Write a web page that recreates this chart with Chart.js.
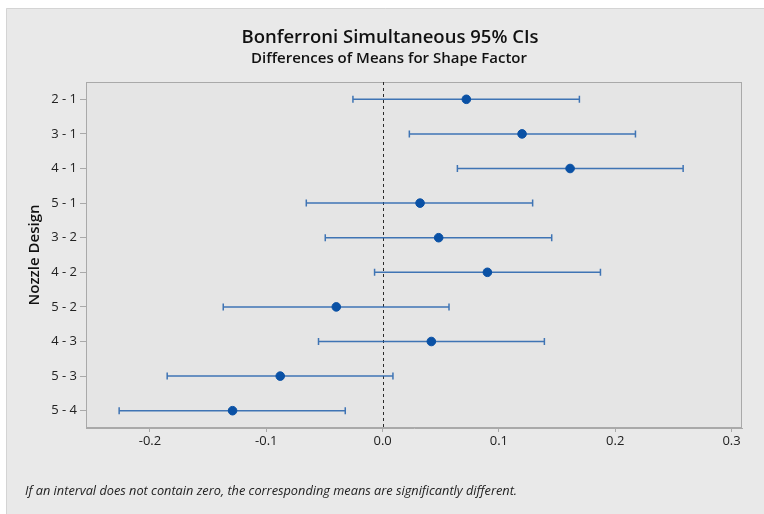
<!DOCTYPE html>
<html>
<head>
<meta charset="utf-8">
<script src="https://cdn.jsdelivr.net/npm/chart.js@4/dist/chart.umd.min.js"></script>
<style>
  html, body { margin: 0; padding: 0; background: #ffffff; }
  #wrap { width: 764px; height: 514px; position: relative; }
</style>
</head>
<body>
<div id="wrap"><canvas id="c" width="764" height="514"></canvas></div>
<script>
// Pairwise comparisons of nozzle designs
const comparisons = ['2 - 1', '3 - 1', '4 - 1', '5 - 1', '3 - 2', '4 - 2', '5 - 2', '4 - 3', '5 - 3', '5 - 4'];
// Difference of means and Bonferroni simultaneous 95% interval bounds
const diffMeans = [0.0720, 0.1199, 0.1612, 0.0322, 0.0482, 0.0901, -0.0398, 0.0419, -0.0880, -0.1290];
const lowerBounds = [-0.0255, 0.0230, 0.0643, -0.0656, -0.0493, -0.0069, -0.1370, -0.0551, -0.1852, -0.2265];
const upperBounds = [0.1692, 0.2174, 0.2584, 0.1290, 0.1454, 0.1873, 0.0571, 0.1391, 0.0089, -0.0321];
// Horizontal axis ticks
const xTicks = [-0.2, -0.1, 0.0, 0.1, 0.2, 0.3];

const FONT = "'Open Sans', 'Noto Sans', sans-serif";
const pointColor = '#0a51a5';
const intervalColor = 'rgba(34, 96, 172, 0.85)';
const frameColor = '#a9a9a9';

// Background panel, titles, axis title and footnote
const decorPlugin = {
  id: 'decor',
  beforeDraw(chart) {
    const ctx = chart.ctx;
    const a = chart.chartArea;
    ctx.save();
    ctx.fillStyle = '#ffffff';
    ctx.fillRect(0, 0, chart.width, chart.height);
    ctx.fillStyle = '#e9e9e9';
    ctx.fillRect(6, 8, chart.width - 6, chart.height - 8);
    ctx.strokeStyle = '#d4d4d4';
    ctx.lineWidth = 1;
    ctx.beginPath();
    ctx.moveTo(6.5, chart.height);
    ctx.lineTo(6.5, 8.5);
    ctx.lineTo(chart.width, 8.5);
    ctx.stroke();
    ctx.fillStyle = '#e5e5e5';
    ctx.fillRect(a.left, a.top, a.right - a.left, a.bottom - a.top);

    ctx.fillStyle = '#111111';
    ctx.textAlign = 'center';
    ctx.textBaseline = 'middle';
    ctx.font = "600 18.5px " + FONT;
    ctx.fillText('Bonferroni Simultaneous 95% CIs', 390, 38);
    ctx.font = "600 15px " + FONT;
    ctx.fillText('Differences of Means for Shape Factor', 389, 59);

    ctx.save();
    ctx.translate(35, (a.top + a.bottom) / 2);
    ctx.rotate(-Math.PI / 2);
    ctx.font = "600 15px " + FONT;
    ctx.fillText('Nozzle Design', 0, 0);
    ctx.restore();

    ctx.textAlign = 'left';
    ctx.font = "italic 12.75px " + FONT;
    ctx.fillStyle = '#222222';
    ctx.fillText('If an interval does not contain zero, the corresponding means are significantly different.', 25, 491);
    ctx.restore();
  },
  beforeDatasetsDraw(chart) {
    const ctx = chart.ctx;
    const a = chart.chartArea;
    const xs = chart.scales.x;
    const ys = chart.scales.y;
    ctx.save();
    // plot frame
    ctx.strokeStyle = frameColor;
    ctx.lineWidth = 1;
    ctx.strokeRect(a.left + 0.5, a.top + 0.5, a.right - a.left - 1, a.bottom - a.top - 1);
    // reference line at zero
    const x0 = Math.round(xs.getPixelForValue(0)) + 0.5;
    ctx.strokeStyle = '#2a2a2a';
    ctx.setLineDash([3, 3]);
    ctx.beginPath();
    ctx.moveTo(x0, a.top);
    ctx.lineTo(x0, a.bottom);
    ctx.stroke();
    ctx.setLineDash([]);
    // interval bars with end caps
    ctx.strokeStyle = intervalColor;
    ctx.lineWidth = 1.5;
    comparisons.forEach((c, i) => {
      const y = ys.getPixelForValue(i);
      const xl = xs.getPixelForValue(lowerBounds[i]);
      const xh = xs.getPixelForValue(upperBounds[i]);
      ctx.beginPath();
      ctx.moveTo(xl, y);
      ctx.lineTo(xh, y);
      ctx.moveTo(xl, y - 3.5);
      ctx.lineTo(xl, y + 3.5);
      ctx.moveTo(xh, y - 3.5);
      ctx.lineTo(xh, y + 3.5);
      ctx.stroke();
    });
    ctx.restore();
  }
};

new Chart(document.getElementById('c'), {
  type: 'scatter',
  data: {
    labels: comparisons,
    datasets: [{
      data: comparisons.map((c, i) => ({ x: diffMeans[i], y: c })),
      backgroundColor: pointColor,
      borderColor: pointColor,
      pointRadius: 4.3,
      pointHoverRadius: 4.3
    }]
  },
  options: {
    responsive: false,
    animation: false,
    events: [],
    layout: { padding: { left: 0, right: 22, top: 82, bottom: 56 } },
    plugins: {
      legend: { display: false },
      tooltip: { enabled: false },
      title: { display: false }
    },
    scales: {
      x: {
        type: 'linear',
        min: -0.255,
        max: 0.309,
        afterBuildTicks(scale) { scale.ticks = xTicks.map(v => ({ value: v })); },
        afterFit(scale) { scale.height = 30; },
        border: { display: true, color: frameColor },
        grid: { drawOnChartArea: false, drawTicks: true, tickLength: 4, color: frameColor },
        ticks: {
          color: '#222222',
          font: { family: FONT, size: 13 },
          padding: 1,
          maxRotation: 0,
          callback: v => v.toFixed(1)
        }
      },
      y: {
        type: 'category',
        labels: comparisons,
        offset: true,
        afterFit(scale) { scale.width = 86; },
        border: { display: true, color: frameColor },
        grid: { drawOnChartArea: false, drawTicks: true, tickLength: 6, color: frameColor, offset: false },
        ticks: {
          color: '#222222',
          font: { family: FONT, size: 13 },
          padding: 3
        }
      }
    }
  },
  plugins: [decorPlugin]
});
</script>
</body>
</html>
